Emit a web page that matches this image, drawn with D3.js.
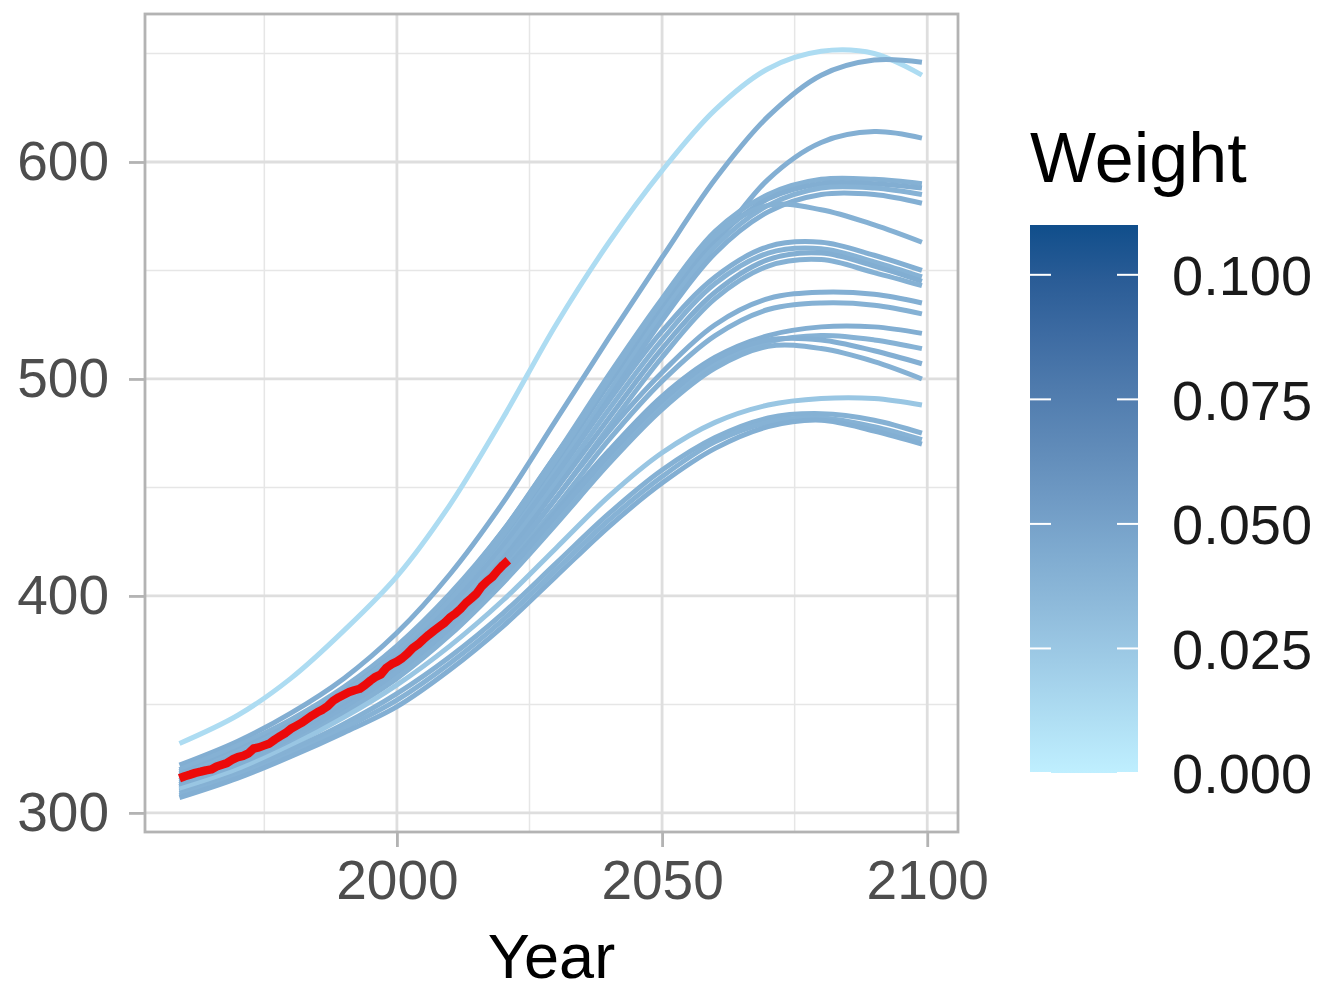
<!DOCTYPE html>
<html>
<head>
<meta charset="utf-8">
<script src="https://cdn.jsdelivr.net/npm/d3@7"></script>
<style>
  body { margin: 0; background: #fff; }
  svg { display: block; font-family: 'Liberation Sans', Arial, Helvetica, sans-serif; }
</style>
</head>
<body>
<svg id="chart" width="1324" height="991"></svg>
<script>
const keyYears = [1959, 1970, 1980, 1990, 2000, 2010, 2020, 2030, 2040, 2050, 2060, 2070, 2080, 2090, 2099]

// weight of each model run (drives the colour)
const modelWeights = [
  0.012, 0.042, 0.041,
  0.040, 0.042, 0.039, 0.041,
  0.040,
  0.041, 0.039, 0.042, 0.040,
  0.041, 0.040,
  0.042, 0.039, 0.041, 0.040,
  0.026,
  0.040, 0.039, 0.041
]

// CO2 (ppm) of each model run at keyYears
const modelRuns = [
  [332, 345, 362, 384, 409, 442, 482, 525, 563, 596, 624, 643, 651, 650, 640],
  [322, 333, 346, 362, 383, 410, 443, 481, 519, 556, 592, 621, 640, 647, 646],
  [319, 330, 342, 357, 376, 400, 430, 465, 498, 530, 562, 592, 609, 614, 611],
  [320, 331, 343, 358, 377, 401, 430, 465, 502, 537, 568, 585, 592, 592, 590],
  [318, 329, 341, 356, 374, 398, 427, 461, 498, 533, 564, 583, 590, 590, 588],
  [317, 327, 339, 354, 372, 395, 424, 458, 494, 530, 561, 580, 588, 588, 585],
  [315, 326, 337, 352, 370, 392, 421, 455, 491, 527, 558, 577, 585, 585, 581],
  [317, 328, 340, 355, 374, 398, 428, 463, 500, 536, 566, 580, 578, 571, 563],
  [316, 327, 339, 354, 372, 395, 423, 456, 490, 522, 547, 561, 563, 557, 550],
  [315, 325, 337, 352, 370, 392, 420, 452, 486, 518, 544, 558, 560, 554, 547],
  [313, 324, 336, 350, 368, 390, 417, 449, 482, 514, 540, 555, 558, 552, 545],
  [312, 322, 334, 348, 365, 387, 414, 445, 478, 510, 537, 552, 555, 549, 543],
  [314, 324, 336, 350, 367, 388, 415, 445, 476, 503, 525, 537, 540, 539, 535],
  [312, 322, 334, 348, 365, 386, 412, 441, 472, 499, 520, 532, 535, 534, 530],
  [313, 323, 335, 349, 366, 386, 411, 439, 467, 492, 510, 520, 524, 524, 521],
  [311, 321, 333, 347, 364, 384, 408, 435, 463, 488, 507, 517, 520, 518, 514],
  [312, 322, 334, 348, 365, 385, 409, 437, 465, 490, 509, 518, 518, 513, 507],
  [310, 320, 332, 346, 362, 382, 406, 433, 461, 486, 505, 515, 514, 508, 500],
  [311, 320, 331, 344, 359, 377, 398, 422, 446, 466, 480, 488, 491, 491, 488],
  [309, 318, 329, 341, 355, 372, 392, 415, 438, 458, 473, 482, 484, 481, 475],
  [308, 317, 327, 339, 352, 369, 389, 412, 435, 455, 471, 480, 482, 478, 472],
  [307, 316, 326, 337, 349, 366, 386, 409, 432, 452, 468, 478, 481, 476, 470]
]

// observed annual mean CO2 (ppm)
const obsYears = [
  1959, 1960, 1961, 1962, 1963, 1964, 1965, 1966, 1967, 1968,
  1969, 1970, 1971, 1972, 1973, 1974, 1975, 1976, 1977, 1978,
  1979, 1980, 1981, 1982, 1983, 1984, 1985, 1986, 1987, 1988,
  1989, 1990, 1991, 1992, 1993, 1994, 1995, 1996, 1997, 1998,
  1999, 2000, 2001, 2002, 2003, 2004, 2005, 2006, 2007, 2008,
  2009, 2010, 2011, 2012, 2013, 2014, 2015, 2016, 2017, 2018,
  2019, 2020, 2021
]
const obsCO2 = [
  315.98, 316.91, 317.64, 318.45, 318.99, 319.62, 320.04, 321.37, 322.18, 323.05,
  324.62, 325.68, 326.32, 327.46, 329.68, 330.19, 331.12, 332.03, 333.84, 335.41,
  336.84, 338.76, 340.12, 341.48, 343.15, 344.87, 346.35, 347.61, 349.31, 351.69,
  353.20, 354.45, 355.70, 356.54, 357.21, 358.96, 360.97, 362.74, 363.88, 366.84,
  368.54, 369.71, 371.32, 373.45, 375.98, 377.70, 379.98, 382.09, 384.02, 385.83,
  387.64, 390.10, 391.85, 394.06, 396.74, 398.81, 401.01, 404.41, 406.76, 408.72,
  411.66, 414.24, 416.45
]

const xMajor = [2000, 2050, 2100]
const xMinor = [1975, 2025, 2075]
const yMajor = [300, 400, 500, 600]
const yMinor = [350, 450, 550, 650]
const weightTicks = [0, 0.025, 0.05, 0.075, 0.1]
const weightMax = 0.11

const svg = d3.select('#chart')

// panel box
const panelLeft = 145
const panelRight = 958
const panelTop = 14
const panelBottom = 832

const x = d3.scaleLinear().domain([1952.5, 2105.8]).range([panelLeft, panelRight])
const y = d3.scaleLinear().domain([291.2, 668.2]).range([panelBottom, panelTop])

const colour = d3.scaleLinear()
  .domain([0, weightMax])
  .range(['#BFEFFF', '#104E8B'])
  .interpolate(d3.interpolateLab)

// grid
const grid = svg.append('g')
grid.selectAll('.vminor').data(xMinor).enter().append('line')
  .attr('x1', d => x(d)).attr('x2', d => x(d))
  .attr('y1', panelTop).attr('y2', panelBottom)
  .attr('stroke', '#e6e6e6').attr('stroke-width', 1.5)
grid.selectAll('.hminor').data(yMinor).enter().append('line')
  .attr('y1', d => y(d)).attr('y2', d => y(d))
  .attr('x1', panelLeft).attr('x2', panelRight)
  .attr('stroke', '#e6e6e6').attr('stroke-width', 1.5)
grid.selectAll('.vmajor').data(xMajor).enter().append('line')
  .attr('x1', d => x(d)).attr('x2', d => x(d))
  .attr('y1', panelTop).attr('y2', panelBottom)
  .attr('stroke', '#dedede').attr('stroke-width', 2.8)
grid.selectAll('.hmajor').data(yMajor).enter().append('line')
  .attr('y1', d => y(d)).attr('y2', d => y(d))
  .attr('x1', panelLeft).attr('x2', panelRight)
  .attr('stroke', '#dedede').attr('stroke-width', 2.8)

// model runs
const runLine = d3.line()
  .x((d, i) => x(keyYears[i]))
  .y(d => y(d))
  .curve(d3.curveCatmullRom.alpha(0.5))

svg.append('g')
  .selectAll('path')
  .data(modelRuns)
  .enter()
  .append('path')
  .attr('d', d => runLine(d))
  .attr('fill', 'none')
  .attr('stroke', (d, i) => colour(modelWeights[i]))
  .attr('stroke-width', 5)
  .attr('stroke-linecap', 'butt')

// observations
const obsLine = d3.line()
  .x((d, i) => x(obsYears[i]))
  .y(d => y(d))

svg.append('path')
  .attr('d', obsLine(obsCO2))
  .attr('fill', 'none')
  .attr('stroke', '#ec0a0a')
  .attr('stroke-width', 8.5)
  .attr('stroke-linejoin', 'round')

// panel border
svg.append('rect')
  .attr('x', panelLeft).attr('y', panelTop)
  .attr('width', panelRight - panelLeft).attr('height', panelBottom - panelTop)
  .attr('fill', 'none')
  .attr('stroke', '#b3b3b3')
  .attr('stroke-width', 2.8)

// axes
const xAxis = d3.axisBottom(x).tickValues(xMajor).tickSize(15).tickPadding(13).tickFormat(d3.format('d'))
const yAxis = d3.axisLeft(y).tickValues(yMajor).tickSize(16).tickPadding(20).tickFormat(d3.format('d'))

const gx = svg.append('g').attr('transform', `translate(0,${panelBottom})`).call(xAxis)
const gy = svg.append('g').attr('transform', `translate(${panelLeft},0)`).call(yAxis)

;[gx, gy].forEach(g => {
  g.select('.domain').remove()
  g.selectAll('.tick line').attr('stroke', '#b3b3b3').attr('stroke-width', 2.8)
  g.selectAll('.tick text')
    .attr('fill', '#4d4d4d')
    .style('font-size', '55px')
    .style('font-family', "'Liberation Sans', Arial, sans-serif")
})

svg.append('text')
  .attr('x', (panelLeft + panelRight) / 2)
  .attr('y', 978)
  .attr('text-anchor', 'middle')
  .style('font-size', '63px')
  .attr('fill', '#000')
  .text('Year')

// legend
const legX = 1030
const legW = 108
const legScale = d3.scaleLinear().domain([0, weightMax]).range([773, 225])

const defs = svg.append('defs')
const grad = defs.append('linearGradient')
  .attr('id', 'wgrad')
  .attr('x1', 0).attr('x2', 0).attr('y1', 1).attr('y2', 0)
d3.range(0, 11).forEach(k => {
  grad.append('stop')
    .attr('offset', k / 10)
    .attr('stop-color', colour(weightMax * k / 10))
})

svg.append('rect')
  .attr('x', legX).attr('y', legScale(weightMax))
  .attr('width', legW).attr('height', legScale(0) - legScale(weightMax))
  .attr('fill', 'url(#wgrad)')

const legTicks = svg.append('g')
legTicks.selectAll('.tl').data(weightTicks).enter().append('line')
  .attr('x1', legX).attr('x2', legX + 21)
  .attr('y1', d => legScale(d)).attr('y2', d => legScale(d))
  .attr('stroke', '#fff').attr('stroke-width', 2)
legTicks.selectAll('.tr').data(weightTicks).enter().append('line')
  .attr('x1', legX + legW - 21).attr('x2', legX + legW)
  .attr('y1', d => legScale(d)).attr('y2', d => legScale(d))
  .attr('stroke', '#fff').attr('stroke-width', 2)

svg.append('g')
  .selectAll('text')
  .data(weightTicks)
  .enter()
  .append('text')
  .attr('x', 1172)
  .attr('y', d => legScale(d))
  .attr('dy', '0.36em')
  .style('font-size', '56px')
  .attr('fill', '#1a1a1a')
  .text(d => d3.format('.3f')(d))

svg.append('text')
  .attr('x', 1030)
  .attr('y', 182)
  .style('font-size', '70px')
  .attr('fill', '#000')
  .text('Weight')
</script>
</body>
</html>
